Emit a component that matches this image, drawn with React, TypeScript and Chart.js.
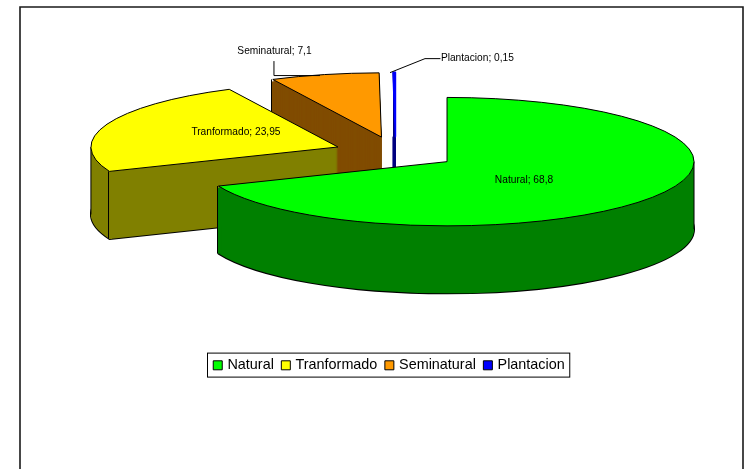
import React, { useEffect, useRef } from "react";
import { Chart, registerables } from "chart.js";

Chart.register(...registerables);

const categories = ["Natural", "Tranformado", "Seminatural", "Plantacion"];
const values = [68.8, 23.95, 7.1, 0.15];
const topColors = ["#00FF00", "#FFFF00", "#FF9900", "#0000FF"];
const wallColors = ["#008000", "#808000", "#804C00", "#000080"];

const FONT = "'Liberation Sans', Arial, sans-serif";
const VIEW = { cx: 395.7, cy: 152.7, tilt: 0.26, depth: 67.5, explode: 61.8, radius: 247 };
// label anchors relative to each slice's projected apex, with optional leader lines
const LABELS: any[] = [
  { dx: 77, dy: 19, leader: null },
  { dx: -102, dy: -15, leader: null },
  { dx: -107, dy: -85.5, leader: [[-107.5, -76], [-107.5, -61.5], [-61.5, -61.5]] },
  { dx: 82, dy: -78, leader: [[-5.4, -64], [29.6, -78], [45, -78]] },
];

function cornerVisible(arc: any, a: number) {
  const R = arc.outerRadius;
  const px = Math.cos(a) * R;
  const py = Math.sin(a) * R + 8;
  if (Math.hypot(px, py) > R) return true;
  const ang = Math.atan2(py, px);
  const eps = 1e-6;
  for (const t of [ang, ang + Math.PI * 2, ang - Math.PI * 2]) {
    if (t >= arc.startAngle - eps && t <= arc.endAngle + eps) return false;
  }
  return true;
}

const pie3d = {
  id: "pie3d",
  afterDatasetsUpdate(chart: any) {
    chart.getDatasetMeta(0).data.forEach((arc: any) => {
      const mid = (arc.startAngle + arc.endAngle) / 2;
      arc.x += Math.cos(mid) * VIEW.explode;
      arc.y += Math.sin(mid) * VIEW.explode;
    });
  },
  beforeDraw(chart: any) {
    const { ctx } = chart;
    ctx.save();
    ctx.strokeStyle = "#1a1a1a";
    ctx.lineWidth = 1.6;
    ctx.beginPath();
    ctx.moveTo(20, 469);
    ctx.lineTo(20, 7);
    ctx.lineTo(743, 7);
    ctx.lineTo(743, 469);
    ctx.stroke();
    ctx.restore();
  },
  beforeDatasetsDraw(chart: any) {
    const { ctx } = chart;
    const arcs = chart.getDatasetMeta(0).data;
    ctx.save();
    ctx.lineJoin = "round";
    for (let i = arcs.length - 1; i >= 0; i--) {
      const arc = arcs[i];
      const sliver = arc.circumference < 0.05;
      if (!sliver) {
        sector(chart, arc, VIEW.depth);
        ctx.strokeStyle = "#000";
        ctx.lineWidth = 2;
        ctx.stroke();
      }
      ctx.fillStyle = wallColors[i];
      for (let n = VIEW.depth; n >= 0; n--) {
        sector(chart, arc, n);
        ctx.fill();
      }
      if (sliver) {
        const p = project(chart, arc.x - 1.5, arc.y);
        ctx.strokeStyle = wallColors[i];
        ctx.lineWidth = 3;
        ctx.beginPath();
        ctx.moveTo(p.x, p.y);
        ctx.lineTo(p.x, p.y + VIEW.depth);
        ctx.stroke();
        continue;
      }
      // corners of the slice whose vertical edge can be seen
      for (const a of [arc.startAngle, arc.endAngle]) {
        if (!cornerVisible(arc, a)) continue;
        const p = project(chart, arc.x + Math.cos(a) * arc.outerRadius, arc.y + Math.sin(a) * arc.outerRadius);
        const x = Math.floor(p.x) - 0.5;
        ctx.strokeStyle = wallColors[i];
        ctx.lineWidth = 3;
        ctx.beginPath();
        ctx.moveTo(x + 2, p.y + 2);
        ctx.lineTo(x + 2, p.y + VIEW.depth);
        ctx.stroke();
        ctx.strokeStyle = "#000";
        ctx.lineWidth = 1;
        ctx.beginPath();
        ctx.moveTo(x, p.y);
        ctx.lineTo(x, p.y + VIEW.depth);
        ctx.stroke();
      }
      // silhouette edges where the rim turns vertical
      const extremes: number[] = [];
      if (arc.startAngle <= Math.PI && arc.endAngle >= Math.PI) extremes.push(Math.PI);
      if (arc.startAngle <= 0 && arc.endAngle >= 0) extremes.push(0);
      for (const a of extremes) {
        const p = project(chart, arc.x + Math.cos(a) * arc.outerRadius, arc.y);
        ctx.strokeStyle = "#000";
        ctx.lineWidth = 1;
        ctx.beginPath();
        ctx.moveTo(p.x, p.y);
        ctx.lineTo(p.x, p.y + VIEW.depth);
        ctx.stroke();
      }
    }
    ctx.restore();
  },
  beforeDatasetDraw(chart: any) {
    chart.ctx.save();
    applyView(chart, 0);
  },
  afterDatasetDraw(chart: any) {
    chart.ctx.restore();
  },
  afterDatasetsDraw(chart: any) {
    const { ctx } = chart;
    const arcs = chart.getDatasetMeta(0).data;
    ctx.save();
    ctx.lineJoin = "round";
    ctx.strokeStyle = "#000";
    ctx.lineWidth = 1;
    arcs.forEach((arc: any, i: number) => {
      sector(chart, arc, 0);
      ctx.stroke();
      if (arc.circumference < 0.05) {
        ctx.strokeStyle = topColors[i];
        ctx.lineWidth = 1.6;
        ctx.stroke();
        ctx.strokeStyle = "#000";
        ctx.lineWidth = 1;
      }
    });
    ctx.font = `10.2px ${FONT}`;
    ctx.fillStyle = "#000";
    ctx.textAlign = "center";
    ctx.textBaseline = "middle";
    arcs.forEach((arc: any, i: number) => {
      const apex = project(chart, arc.x, arc.y);
      const spec = LABELS[i];
      ctx.fillText(`${categories[i]}; ${String(values[i]).replace(".", ",")}`, apex.x + spec.dx, apex.y + spec.dy);
      if (spec.leader) {
        ctx.beginPath();
        spec.leader.forEach(([x, y]: number[], n: number) => {
          if (n === 0) ctx.moveTo(apex.x + x, apex.y + y);
          else ctx.lineTo(apex.x + x, apex.y + y);
        });
        ctx.stroke();
      }
    });
    ctx.restore();
  },
  afterDraw(chart: any) {
    const boxes = chart.legend.legendHitBoxes;
    const { ctx } = chart;
    const first = boxes[0];
    const last = boxes[boxes.length - 1];
    ctx.save();
    ctx.strokeStyle = "#000";
    ctx.lineWidth = 1;
    ctx.strokeRect(207.5, first.top - 5, last.left + last.width + 5 - 207.5, 24);
    ctx.restore();
  },
};

function center(chart: any) {
  const a = chart.chartArea;
  return { x: (a.left + a.right) / 2, y: (a.top + a.bottom) / 2 };
}

function applyView(chart: any, dy: number) {
  const { ctx } = chart;
  const c = center(chart);
  ctx.translate(VIEW.cx, VIEW.cy + dy);
  ctx.scale(1, VIEW.tilt);
  ctx.translate(-c.x, -c.y);
}

function project(chart: any, x: number, y: number) {
  const c = center(chart);
  return { x: VIEW.cx + x - c.x, y: VIEW.cy + (y - c.y) * VIEW.tilt };
}

function sector(chart: any, arc: any, dy: number) {
  const { ctx } = chart;
  ctx.save();
  applyView(chart, dy);
  ctx.beginPath();
  ctx.moveTo(arc.x, arc.y);
  ctx.arc(arc.x, arc.y, arc.outerRadius, arc.startAngle, arc.endAngle);
  ctx.closePath();
  ctx.restore();
}

export default function App() {
  const ref = useRef<HTMLCanvasElement | null>(null);
  useEffect(() => {
    const baseLabels = (Chart as any).overrides.doughnut.plugins.legend.labels.generateLabels;
    const chart = new Chart(ref.current as HTMLCanvasElement, {
      type: "pie",
      data: {
        labels: categories,
        datasets: [
          {
            data: values,
            backgroundColor: topColors,
            borderWidth: 0,
            radius: VIEW.radius,
            clip: false,
          } as any,
        ],
      },
      options: {
        responsive: false,
        animation: false,
        layout: { padding: { left: 30, bottom: 86.5 } },
        plugins: {
          tooltip: { enabled: false },
          legend: {
            position: "bottom",
            labels: {
              font: { family: FONT, size: 14.4 },
              color: "#000",
              usePointStyle: true,
              pointStyle: "rect",
              boxWidth: 5,
              boxHeight: 9,
              padding: 9.5,
              generateLabels: (c: any) =>
                baseLabels(c).map((item: any) => ({ ...item, lineWidth: 1, strokeStyle: "#000" })),
            },
          },
        },
      } as any,
      plugins: [pie3d as any],
    });
    return () => chart.destroy();
  }, []);
  return (
    <div style={{ position: "absolute", left: 0, top: 0, width: 750, height: 469, background: "#fff" }}>
      <canvas ref={ref} width={750} height={469} style={{ display: "block" }} />
    </div>
  );
}
